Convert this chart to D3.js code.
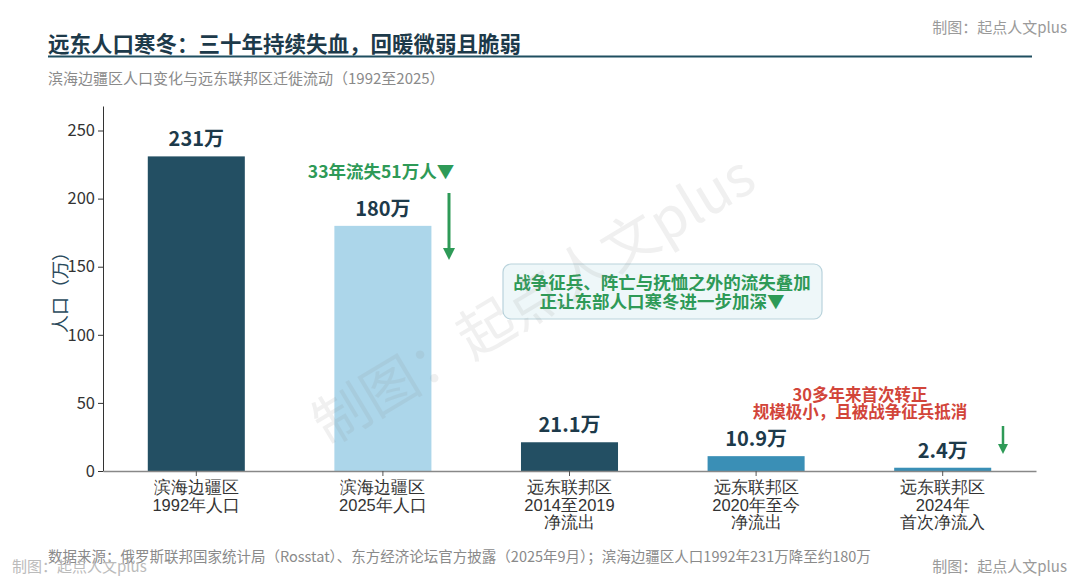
<!DOCTYPE html>
<html><head><meta charset="utf-8">
<script src="https://cdn.jsdelivr.net/npm/d3@7/dist/d3.min.js"></script>
<style>
html,body{margin:0;padding:0;background:#fff;}
svg{display:block;font-family:"Noto Sans CJK SC","Noto Sans",sans-serif;}
</style></head>
<body><svg id="c" width="1080" height="583"></svg>
<script>
const categories = [["滨海边疆区","1992年人口"],["滨海边疆区","2025年人口"],["远东联邦区","2014至2019","净流出"],["远东联邦区","2020年至今","净流出"],["远东联邦区","2024年","首次净流入"]];
const values = [231, 180, 21.1, 10.9, 2.4];
const valueLabels = ["231万","180万","21.1万","10.9万","2.4万"];
const barColors = ["#234f63","#acd6ea","#234f63","#3a8fb6","#3a8fb6"];
const yTicks = [0,50,100,150,200,250];

const svg = d3.select("#c");
const M = {left:103, right:1036, top:106, bottom:471};

// header
svg.append("text").attr("x",48).attr("y",52).attr("font-size",21.5).attr("font-weight","bold")
  .attr("fill","#1d3a4a").text("远东人口寒冬：三十年持续失血，回暖微弱且脆弱");
svg.append("line").attr("x1",48).attr("x2",1032).attr("y1",56.5).attr("y2",56.5)
  .attr("stroke","#1f4e60").attr("stroke-width",2);
svg.append("text").attr("x",48).attr("y",84).attr("font-size",15).attr("fill","#8a8a8a")
  .text("滨海边疆区人口变化与远东联邦区迁徙流动（1992至2025）");
svg.append("text").attr("x",1067).attr("y",33).attr("text-anchor","end").attr("font-size",15)
  .attr("fill","#9a9a9a").text("制图：起点人文plus");

const x = d3.scaleBand().domain(d3.range(values.length)).range([M.left, M.right]).paddingInner(0.48).paddingOuter(0.24);
const y = d3.scaleLinear().domain([0, 268]).range([M.bottom, M.top]);

// bars
svg.selectAll("rect.bar").data(values).join("rect").attr("class","bar")
  .attr("x",(d,i)=>x(i)).attr("width",x.bandwidth())
  .attr("y",d=>y(d)).attr("height",d=>y(0)-y(d))
  .attr("fill",(d,i)=>barColors[i]);

// y axis
const ya = svg.append("g").attr("transform",`translate(${M.left},0)`)
  .call(d3.axisLeft(y).tickValues(yTicks).tickSize(5).tickSizeOuter(0));
ya.select(".domain").attr("stroke","#333");
ya.selectAll(".tick line").attr("stroke","#333");
ya.selectAll(".tick text").attr("font-size",16.5).attr("fill","#333").attr("font-family","'Noto Sans CJK SC',sans-serif");

// x axis
const xa = svg.append("g").attr("transform",`translate(0,${M.bottom})`)
  .call(d3.axisBottom(x).tickSize(5).tickSizeOuter(0).tickFormat(""));
xa.select(".domain").attr("stroke","#888").attr("stroke-width",1.5);
xa.selectAll(".tick line").attr("stroke","#555");
xa.selectAll(".tick").each(function(d){
  const t = d3.select(this).append("text").attr("text-anchor","middle").attr("fill","#333").attr("font-size",16.5);
  categories[d].forEach((s,k)=>t.append("tspan").attr("x",0).attr("y",22+k*17.5).text(s));
});

// y label
svg.append("text").attr("transform","translate(67,288) rotate(-90)").attr("text-anchor","middle")
  .attr("font-size",18).attr("fill","#2a4a5c").text("人口（万）");

// value labels
svg.selectAll("text.vl").data(values).join("text").attr("class","vl")
  .attr("x",(d,i)=>x(i)+x.bandwidth()/2).attr("y",d=>y(d)-10)
  .attr("text-anchor","middle").attr("font-size",20).attr("font-weight","bold").attr("fill","#1d3a4a")
  .text((d,i)=>valueLabels[i]);

const green = "#2e9a57";
// annotation 1
svg.append("text").attr("x",381).attr("y",178).attr("text-anchor","middle").attr("font-size",17.5)
  .attr("font-weight","bold").attr("fill",green).text("33年流失51万人▼");
svg.append("defs").append("marker").attr("id","ah").attr("viewBox","0 0 10 10").attr("refX",5).attr("refY",5)
  .attr("markerWidth",4).attr("markerHeight",4).attr("orient","auto")
  .append("path").attr("d","M0,0L10,5L0,10Z").attr("fill",green);
svg.append("line").attr("x1",449).attr("x2",449).attr("y1",193).attr("y2",254)
  .attr("stroke",green).attr("stroke-width",3).attr("marker-end","url(#ah)");

// box
svg.append("rect").attr("x",503).attr("y",264).attr("width",319).attr("height",55).attr("rx",8)
  .attr("fill","#eef7f9").attr("stroke","#b9d3dc").attr("stroke-width",1.2);
const bt = svg.append("text").attr("text-anchor","middle").attr("font-size",17.5).attr("font-weight","bold").attr("fill",green);
bt.append("tspan").attr("x",662).attr("y",289).text("战争征兵、阵亡与抚恤之外的流失叠加");
bt.append("tspan").attr("x",662).attr("y",307.5).text("正让东部人口寒冬进一步加深▼");

// red annotation
const rt = svg.append("text").attr("text-anchor","middle").attr("font-size",16.5).attr("font-weight","bold").attr("fill","#d2453a");
rt.append("tspan").attr("x",860).attr("y",401).text("30多年来首次转正");
rt.append("tspan").attr("x",860).attr("y",418).text("规模极小，且被战争征兵抵消");

svg.append("line").attr("x1",1003).attr("x2",1003).attr("y1",426).attr("y2",449)
  .attr("stroke",green).attr("stroke-width",2.5).attr("marker-end","url(#ah)");

// footer
svg.append("text").attr("x",48).attr("y",562).attr("font-size",14.5).attr("fill","#8a8a8a")
  .text("数据来源：俄罗斯联邦国家统计局（Rosstat）、东方经济论坛官方披露（2025年9月）；滨海边疆区人口1992年231万降至约180万");
svg.append("text").attr("x",12).attr("y",572).attr("font-size",15).attr("fill","#bbb").text("制图：起点人文plus");
svg.append("text").attr("x",1067).attr("y",572).attr("text-anchor","end").attr("font-size",15)
  .attr("fill","#9a9a9a").text("制图：起点人文plus");

// watermark on top
svg.append("text").attr("transform","translate(536,304) rotate(-31)")
  .attr("text-anchor","middle").attr("dominant-baseline","middle")
  .attr("font-size",56).attr("fill","#888").attr("opacity",0.12)
  .text("制图：起点人文plus");
</script></body></html>
